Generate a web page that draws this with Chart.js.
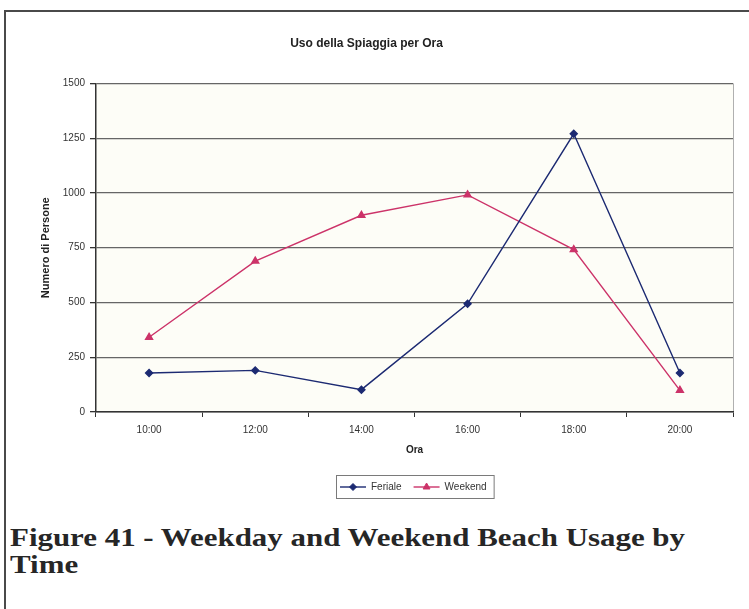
<!DOCTYPE html>
<html>
<head>
<meta charset="utf-8">
<script src="https://cdn.jsdelivr.net/npm/chart.js@4/dist/chart.umd.min.js"></script>
<style>
  html, body { margin: 0; padding: 0; background: #fff; }
  body { width: 749px; height: 609px; position: relative; overflow: hidden; }
  #frame { position: absolute; left: 4px; top: 10px; width: 760px; height: 620px;
           border-top: 2px solid #4a4a4a; border-left: 2px solid #4a4a4a; }
  #c { position: absolute; left: 0; top: 0; }
  #caption { position: absolute; left: 10px; top: 524px; font-family: "Liberation Serif", "Times New Roman", serif;
             font-weight: bold; font-size: 24.5px; line-height: 27px; color: #262626; white-space: nowrap; }
  #caption span { display: inline-block; transform-origin: 0 0; }
</style>
</head>
<body>
<div id="frame"></div>
<canvas id="c" width="749" height="510"></canvas>
<div id="caption"><span id="cap1">Figure 41 - Weekday and Weekend Beach Usage by</span><br><span id="cap2">Time</span></div>
<script>
// Beach usage by hour: weekdays vs. weekend
const hours = ['10:00', '12:00', '14:00', '16:00', '18:00', '20:00'];
const feriale = [178, 190, 102, 494, 1270, 178];
const weekend = [341, 689, 898, 991, 741, 99];
const yTicks = [0, 250, 500, 750, 1000, 1250, 1500];

const FAMILY = '"Liberation Sans", Arial, sans-serif';
const BLUE = '#1c2a72';
const PINK = '#cc3369';

// widen the caption's first line to its printed width and keep both lines at the same scale
(function () {
  const c1 = document.getElementById('cap1');
  const c2 = document.getElementById('cap2');
  const k = 675 / c1.getBoundingClientRect().width;
  c1.style.transform = 'scaleX(' + k + ')';
  c2.style.transform = 'scaleX(' + k + ')';
})();

// cream plot background and light right edge
const plotBg = {
  id: 'plotBg',
  beforeDraw(chart) {
    const { ctx, chartArea: a } = chart;
    ctx.save();
    ctx.fillStyle = '#fdfdf7';
    ctx.fillRect(a.left, a.top, a.right - a.left, a.bottom - a.top);
    ctx.strokeStyle = '#b0b0b0';
    ctx.lineWidth = 1;
    ctx.beginPath();
    ctx.moveTo(Math.round(a.right) + 0.5, a.top);
    ctx.lineTo(Math.round(a.right) + 0.5, a.bottom);
    ctx.stroke();
    ctx.restore();
  }
};

// boxed legend: line segment with marker, then the series name
const boxLegend = {
  id: 'boxLegend',
  afterDraw(chart) {
    const { ctx, chartArea: a } = chart;
    ctx.save();
    ctx.font = '10px ' + FAMILY;
    const sets = chart.data.datasets;
    const lineLen = 26, gapText = 5, gapItems = 12, padL = 4, padR = 7;
    const widths = sets.map(ds => ctx.measureText(ds.label).width);
    let total = padL + padR;
    widths.forEach((w, i) => { total += lineLen + gapText + w + (i ? gapItems : 0); });
    const top = 475, h = 23;
    const left = Math.round((a.left + a.right) / 2 - total / 2);
    ctx.strokeStyle = '#7a7a7a';
    ctx.lineWidth = 1;
    ctx.strokeRect(left + 0.5, top + 0.5, total, h);
    const cy = top + h / 2 + 0.5;
    let x = left + padL;
    sets.forEach((ds, i) => {
      if (i) x += gapItems;
      ctx.strokeStyle = ds.borderColor;
      ctx.lineWidth = ds.borderWidth;
      ctx.beginPath();
      ctx.moveTo(x, cy);
      ctx.lineTo(x + lineLen, cy);
      ctx.stroke();
      ctx.fillStyle = ds.pointBackgroundColor;
      ctx.strokeStyle = ds.pointBorderColor;
      ctx.lineWidth = 1;
      Chart.helpers.drawPoint(ctx, { pointStyle: ds.pointStyle, rotation: 0, radius: ds.pointRadius, borderWidth: 1 }, x + lineLen / 2, cy);
      x += lineLen + gapText;
      ctx.fillStyle = '#333';
      ctx.textBaseline = 'middle';
      ctx.textAlign = 'left';
      ctx.fillText(ds.label, x, cy);
      x += widths[i];
    });
    ctx.restore();
  }
};

new Chart(document.getElementById('c'), {
  type: 'line',
  data: {
    labels: hours,
    datasets: [
      {
        label: 'Feriale', data: feriale,
        borderColor: BLUE, borderWidth: 1.4, tension: 0,
        pointStyle: 'rectRot', pointRadius: 3.5,
        pointBackgroundColor: BLUE, pointBorderColor: BLUE
      },
      {
        label: 'Weekend', data: weekend,
        borderColor: PINK, borderWidth: 1.4, tension: 0,
        pointStyle: 'triangle', pointRadius: 4,
        pointBackgroundColor: PINK, pointBorderColor: PINK
      }
    ]
  },
  options: {
    responsive: false,
    animation: false,
    devicePixelRatio: 1,
    layout: { padding: { top: 0, left: 0, right: 16, bottom: 48 } },
    plugins: {
      legend: { display: false },
      tooltip: { enabled: false },
      title: {
        display: true, text: 'Uso della Spiaggia per Ora', color: '#222',
        font: { family: FAMILY, size: 12, weight: 'bold' },
        padding: { top: 36, bottom: 33 }
      }
    },
    scales: {
      x: {
        type: 'category', offset: true,
        grid: { offset: true, drawOnChartArea: false, tickLength: 5, color: '#333', tickColor: '#333', lineWidth: 1 },
        border: { color: '#333', width: 1.5 },
        ticks: { font: { family: FAMILY, size: 10 }, color: '#333', padding: 7, maxRotation: 0 },
        title: {
          display: true, text: 'Ora', color: '#222',
          font: { family: FAMILY, size: 10, weight: 'bold' },
          padding: { top: 4, bottom: 6 }
        },
        afterFit(s) { s.height = 50; }
      },
      y: {
        min: 0, max: 1500,
        afterBuildTicks(s) { s.ticks = yTicks.map(v => ({ value: v })); },
        grid: { color: '#666', tickColor: '#333', lineWidth: 1.3, tickLength: 6 },
        border: { color: '#333', width: 1.5 },
        ticks: { font: { family: FAMILY, size: 10 }, color: '#333', padding: 5, callback: v => String(v) },
        title: {
          display: true, text: 'Numero di Persone', color: '#222',
          font: { family: FAMILY, size: 11, weight: 'bold' },
          padding: { top: 39, bottom: 0 }
        },
        afterFit(s) { s.width = 96; }
      }
    }
  },
  plugins: [plotBg, boxLegend]
});
</script>
</body>
</html>
